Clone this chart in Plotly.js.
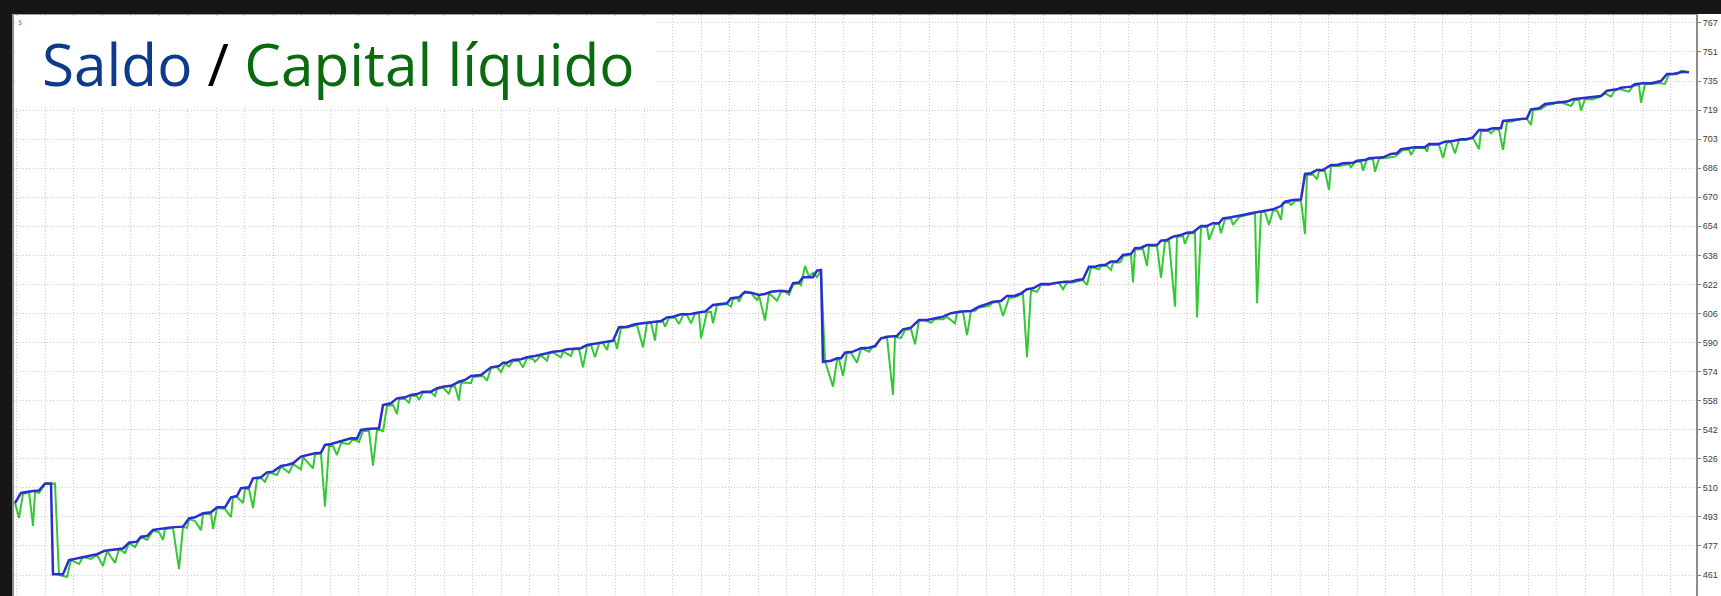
<!DOCTYPE html>
<html>
<head>
<meta charset="utf-8">
<script src="https://cdn.plot.ly/plotly-3.0.1.min.js"></script>
<style>
  html, body { margin:0; padding:0; width:1721px; height:596px; overflow:hidden; background:#161616; }
  #chart { position:absolute; left:12px; top:14px; width:1709px; height:582px; background:#ffffff; }
</style>
</head>
<body>
<div id="chart"></div>
<script>
// Balance (Saldo) : [trade #, value]
const balance = [
[0,500.9],[3,506.5],[9,507.6],[12,507.8],[15,511.7],[18,511.7],[19,461.4],[24,461.4],[27,469.3],[30,469.9],
[34,471.1],[37,471.5],[41,472.5],[45,474.5],[50,475.4],[54,475.7],[57,478.9],[61,479.5],[63,482.2],[66,482.6],
[69,486.0],[74,486.9],[78,487.4],[84,487.8],[87,492.4],[90,493.0],[94,495.2],[98,495.8],[101,498.5],[105,498.5],
[108,504.1],[111,504.8],[113,509.1],[117,509.6],[119,514.6],[123,515.2],[126,517.9],[129,518.3],[133,521.4],[136,522.0],
[139,522.9],[143,526.6],[146,527.5],[150,528.5],[153,528.8],[155,533.1],[158,533.6],[162,534.9],[166,535.8],[168,536.8],
[171,536.6],[173,541.4],[176,541.9],[182,542.3],[184,555.2],[188,556.2],[191,558.9],[195,559.5],[198,560.8],[201,561.3],
[204,562.6],[208,562.6],[211,564.5],[214,565.4],[218,565.9],[222,568.1],[225,569.1],[228,571.3],[233,571.9],[238,576.1],
[242,576.8],[244,578.7],[246,578.7],[249,580.2],[253,580.6],[256,581.7],[260,582.4],[263,583.0],[266,583.9],[269,584.8],
[273,585.2],[276,586.1],[279,586.4],[283,586.7],[286,588.5],[289,589.0],[293,589.8],[296,590.3],[299,590.9],[302,598.3],
[306,598.6],[310,600.0],[314,600.5],[318,601.4],[323,601.8],[326,603.8],[329,604.2],[333,605.5],[338,605.7],[341,606.4],
[345,607.0],[349,610.7],[353,611.1],[356,611.6],[358,614.4],[362,614.9],[365,618.0],[368,617.5],[372,616.2],[375,616.8],
[378,618.0],[383,618.6],[387,618.0],[389,622.7],[392,623.1],[394,626.0],[399,626.0],[401,629.7],[403,630.1],[404,579.2],
[408,579.8],[411,581.1],[413,581.1],[415,584.2],[419,584.8],[423,586.7],[427,587.0],[430,587.9],[433,592.2],[436,593.1],
[441,593.5],[444,597.2],[448,598.1],[452,602.3],[456,602.3],[460,603.3],[464,604.2],[468,606.1],[473,607.0],[478,607.3],
[482,609.7],[486,611.2],[489,612.5],[493,612.9],[496,615.7],[500,615.8],[503,617.1],[506,619.4],[509,619.9],[513,622.3],
[518,622.3],[521,623.0],[525,623.6],[528,623.6],[531,624.5],[534,624.9],[537,631.9],[540,631.9],[543,632.8],[545,632.8],
[548,634.7],[551,634.7],[554,638.4],[558,639.0],[560,642.1],[563,642.4],[566,643.9],[571,643.9],[573,646.3],[576,646.7],
[579,648.5],[583,649.5],[586,650.7],[589,651.0],[593,654.5],[596,654.5],[599,656.0],[602,656.0],[604,658.7],[608,659.3],
[612,660.0],[614,660.6],[618,661.5],[623,662.4],[627,663.0],[629,663.7],[633,665.5],[635,667.9],[639,668.9],[643,669.2],
[645,683.3],[648,683.7],[651,685.5],[654,685.5],[658,688.3],[661,688.3],[664,689.2],[666,689.2],[669,689.5],[671,690.6],
[675,691.0],[677,692.0],[684,692.5],[688,694.4],[691,694.8],[693,697.0],[698,697.5],[700,698.1],[705,698.1],[707,699.9],
[712,699.9],[715,701.2],[719,701.6],[723,702.5],[726,702.5],[729,703.6],[732,707.7],[736,707.7],[739,708.6],[743,708.6],
[744,712.7],[748,713.2],[753,714.1],[756,714.1],[758,719.1],[762,719.7],[765,722.1],[769,722.5],[773,723.0],[776,723.4],
[779,724.7],[783,725.2],[786,725.8],[793,726.5],[796,729.4],[801,730.2],[803,731.1],[808,731.7],[810,733.0],[814,733.6],
[818,733.6],[823,734.8],[826,738.7],[829,738.7],[832,739.4],[834,739.9],[837,739.6]
];

// Equity (Capital líquido) : [trade #, value]
const equity = [
[0,500.9],[2,492.6],[4,505.9],[7,507.0],[9,488.2],[10,507.0],[12,506.5],[15,511.4],[20,511.7],[22,461.0],
[26,459.9],[28,469.3],[32,467.1],[34,471.0],[38,469.9],[41,472.1],[44,466.0],[46,474.3],[50,467.7],[52,475.4],
[55,473.2],[57,478.7],[60,476.5],[63,482.1],[66,480.4],[69,485.4],[72,484.8],[74,480.4],[75,486.5],[79,487.1],
[82,464.3],[84,487.6],[86,487.1],[87,492.0],[90,490.9],[93,485.9],[94,494.8],[98,494.8],[99,486.5],[101,498.1],
[105,497.6],[108,493.1],[109,504.2],[111,504.2],[114,500.9],[115,508.7],[117,508.7],[119,498.1],[121,514.2],[123,514.8],
[125,512.7],[127,517.8],[131,516.4],[133,521.1],[137,517.7],[139,522.5],[143,519.6],[144,526.4],[149,520.1],[150,528.1],
[153,528.1],[155,498.9],[157,532.5],[159,532.5],[161,527.5],[163,534.2],[167,533.6],[169,536.4],[172,534.7],[174,540.8],
[177,540.8],[179,521.6],[181,541.4],[183,541.4],[184,540.4],[186,554.7],[189,555.2],[191,550.2],[192,558.6],[195,558.6],
[197,556.5],[198,560.5],[201,560.2],[202,558.0],[204,562.2],[208,562.2],[210,560.2],[211,564.1],[214,564.9],[217,561.3],
[218,565.5],[220,565.5],[222,557.6],[223,567.7],[228,567.4],[229,570.7],[234,571.3],[236,568.7],[238,575.7],[241,576.3],
[243,573.5],[245,578.2],[247,576.5],[249,579.6],[252,579.6],[254,576.1],[256,581.3],[259,580.7],[260,579.2],[263,582.7],
[266,579.8],[267,583.8],[269,584.3],[273,581.7],[274,584.9],[278,582.4],[279,586.0],[282,586.3],[284,576.1],[286,587.9],
[288,588.5],[290,581.7],[292,589.3],[294,589.6],[296,585.7],[297,590.4],[300,590.7],[301,586.4],[303,597.9],[306,598.2],
[311,599.6],[314,587.2],[316,600.4],[318,601.0],[320,590.9],[321,601.2],[324,601.5],[325,598.6],[327,603.5],[330,603.7],
[332,600.1],[334,605.1],[336,605.1],[338,600.5],[340,606.0],[342,606.0],[343,592.2],[346,606.8],[348,606.8],[349,600.5],
[351,610.7],[356,611.2],[358,609.7],[359,614.0],[361,614.5],[362,612.5],[364,617.3],[368,617.3],[371,613.4],[372,615.9],
[375,602.0],[377,617.3],[381,613.0],[383,617.9],[385,618.4],[387,616.3],[389,622.0],[392,622.6],[393,621.7],[395,632.3],
[397,626.3],[399,628.6],[401,626.0],[403,630.1],[405,579.6],[409,565.4],[411,580.2],[412,580.7],[414,571.3],[416,584.6],
[418,584.1],[421,578.7],[423,586.6],[424,586.3],[427,584.8],[429,587.7],[430,587.4],[433,592.1],[436,592.6],[439,560.8],
[440,592.9],[443,592.4],[445,596.8],[448,597.4],[450,588.9],[452,602.1],[455,602.1],[458,600.8],[460,602.9],[464,602.7],
[466,604.0],[470,600.5],[471,606.5],[474,606.8],[476,594.0],[478,607.3],[480,607.5],[482,609.3],[487,610.1],[489,612.0],
[492,612.3],[494,604.6],[497,614.6],[500,614.9],[503,616.7],[504,616.7],[506,581.7],[508,619.0],[511,618.0],[513,621.7],
[517,621.7],[519,622.9],[522,622.9],[524,619.4],[526,623.1],[529,623.1],[532,624.0],[534,624.5],[536,621.7],[538,631.4],
[540,631.2],[542,630.4],[543,632.3],[546,632.3],[548,630.1],[549,634.2],[552,634.2],[553,634.7],[554,637.8],[558,638.4],
[559,623.2],[560,641.4],[564,641.7],[566,632.3],[567,643.4],[571,643.4],[573,625.8],[575,645.9],[577,646.1],[580,609.7],
[581,648.4],[584,648.9],[585,644.5],[587,650.3],[590,650.6],[591,603.8],[593,653.9],[596,653.9],[597,646.7],[600,655.6],
[602,655.6],[603,650.4],[605,658.3],[608,658.6],[609,655.0],[612,659.4],[614,660.0],[618,661.1],[620,661.7],[621,611.6],
[623,662.2],[625,662.2],[627,655.0],[629,663.0],[631,663.0],[633,657.8],[634,667.2],[637,667.5],[638,666.1],[640,668.3],
[643,668.6],[645,650.0],[646,682.7],[649,683.0],[651,680.3],[652,684.9],[655,684.9],[657,674.4],[658,687.7],[662,687.7],
[665,688.5],[667,688.8],[668,687.0],[670,689.9],[673,690.2],[674,685.1],[676,691.3],[679,691.6],[680,684.5],[682,691.9],
[685,692.1],[690,692.9],[694,696.6],[697,696.9],[698,693.8],[700,697.7],[705,697.7],[706,695.6],[707,699.4],[712,699.4],
[714,692.1],[716,700.7],[718,701.0],[720,694.7],[722,702.1],[725,702.1],[729,703.2],[732,697.0],[733,707.1],[737,707.1],
[738,705.8],[740,708.0],[742,708.0],[744,696.6],[746,712.1],[748,712.4],[753,713.8],[756,713.8],[758,710.4],[759,718.7],
[763,719.3],[766,721.5],[769,722.1],[772,723.4],[778,721.0],[780,724.3],[782,724.3],[783,718.4],[785,724.8],[789,724.7],
[792,725.8],[795,728.0],[798,726.1],[800,729.8],[802,730.4],[807,728.9],[809,732.1],[812,732.6],[813,722.8],[815,733.2],
[819,733.2],[822,733.7],[825,733.2],[827,738.4],[828,738.5],[831,738.5],[833,740.5],[837,739.8]
];

// Right-hand scale labels (bottom to top)
const yTickLabels = ['461','477','493','510','526','542','558','574','590','606','622','638','654','670','686','703','719','735','751','767'];
const yTickFirst = 461, yTickLast = 767;

const titleParts = ['Saldo', ' / ', 'Capital líquido'];

// ---- layout helpers ----
const divW = 1709, divH = 582;
const mL = 2, mR = 25, mT = 1, mB = 0;
const plotW = divW - mL - mR, plotH = divH - mT - mB;
const pageX0 = 12, pageY0 = 14;
const px = x => (x - pageX0 - mL) / plotW;      // page x -> paper
const py = y => 1 - (y - pageY0 - mT) / plotH;  // page y -> paper

const step = (yTickLast - yTickFirst) / (yTickLabels.length - 1);
const tickvals = yTickLabels.map((_, i) => yTickFirst + i * step);

const traces = [
  {
    x: equity.map(p => p[0]), y: equity.map(p => p[1]),
    type: 'scatter', mode: 'lines', name: 'Capital líquido',
    line: { color: '#35c835', width: 2 }, hoverinfo: 'skip'
  },
  {
    x: balance.map(p => p[0]), y: balance.map(p => p[1]),
    type: 'scatter', mode: 'lines', name: 'Saldo',
    line: { color: '#2c2cd2', width: 2.5 }, hoverinfo: 'skip'
  }
];

const gridCol = '#cbcbcb';
const layout = {
  width: divW, height: divH,
  margin: { l: mL, r: mR, t: mT, b: mB, pad: 0 },
  paper_bgcolor: '#ffffff', plot_bgcolor: '#ffffff',
  showlegend: false,
  xaxis: {
    range: [-0.5, 840.5], showticklabels: false, ticks: '',
    tickmode: 'linear', tick0: 15, dtick: 14.263,
    showgrid: true, gridcolor: gridCol, griddash: '1px,2px', gridwidth: 1,
    zeroline: false, showline: true, side: 'top', linecolor: '#a0a0a0', linewidth: 1,
    fixedrange: true
  },
  yaxis: {
    range: [449.36, 771.4], side: 'right',
    tickmode: 'array', tickvals: tickvals, ticktext: yTickLabels,
    ticks: 'outside', ticklen: 3, tickwidth: 1, tickcolor: '#808080',
    tickfont: { family: 'Liberation Sans, Arial, sans-serif', size: 9, color: '#3c3c3c' },
    showgrid: true, gridcolor: gridCol, griddash: '1px,2px', gridwidth: 1,
    zeroline: false, showline: true, mirror: true, linecolor: '#8c8c8c', linewidth: 2,
    fixedrange: true
  },
  shapes: [
    { type: 'rect', xref: 'paper', yref: 'paper', layer: 'above',
      x0: px(15), x1: px(655), y0: py(108), y1: py(17),
      fillcolor: '#ffffff', line: { width: 0 } }
  ],
  annotations: [
    { xref: 'paper', yref: 'paper', x: px(41), y: py(22), xanchor: 'left', yanchor: 'top',
      showarrow: false, borderpad: 0, align: 'left',
      font: { family: 'Open Sans, sans-serif', size: 58.5, color: '#000000' },
      text: '<span style="color:#0d3b8c">' + titleParts[0] + '</span>' +
            '<span style="color:#000000">' + titleParts[1] + '</span>' +
            '<span style="color:#0a6a0e">' + titleParts[2] + '</span>' },
    { xref: 'paper', yref: 'paper', x: px(17), y: py(18), xanchor: 'left', yanchor: 'top',
      showarrow: false, borderpad: 0,
      font: { family: 'DejaVu Sans, sans-serif', size: 7, color: '#6b6bd6' }, text: '$' }
  ]
};

Plotly.newPlot('chart', traces, layout, { staticPlot: true, displayModeBar: false });
</script>
</body>
</html>
